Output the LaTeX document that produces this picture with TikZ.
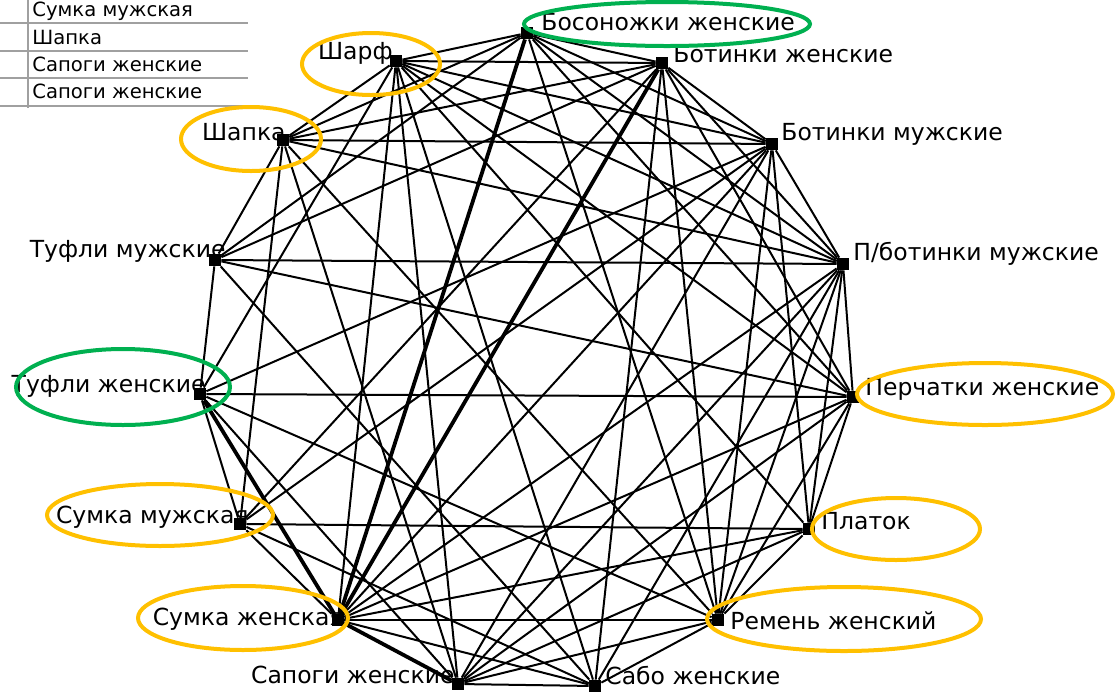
\documentclass[tikz,border=0pt]{standalone}
\usepackage{fontspec}
\setmainfont{DejaVu Sans}
\definecolor{ringorange}{HTML}{FFC000}
\definecolor{ringgreen}{HTML}{00B050}
\definecolor{gridgray}{HTML}{A0A0A0}

\begin{document}
\begin{tikzpicture}[x=0.5pt,y=-0.5pt]
\tikzset{vert/.style={fill=black,minimum size=6pt,inner sep=0pt}}
\tikzset{lbl/.style={font=\fontsize{11.75}{14}\selectfont,inner sep=0pt}}
\tikzset{tbl/.style={font=\fontsize{9.8}{11}\selectfont,anchor=west,inner sep=0pt}}
\tikzset{link/.style={line width=1pt}}
\tikzset{strong/.style={line width=1.9pt}}
\tikzset{ring/.style={draw=#1,line width=2pt}}
\useasboundingbox (0,0) rectangle (1115,692);

% table
\draw[gridgray,line width=1pt] (28,0) -- (28,108);
\foreach \y in {23,51,78,106} \draw[gridgray,line width=1pt] (0,\y) -- (248,\y);
\node[tbl] (row1) at (32,11) {Сумка мужская};
\node[tbl] (row2) at (32,37) {Шапка};
\node[tbl] (row3) at (32,64) {Сапоги женские};
\node[tbl] (row4) at (32,91) {Сапоги женские};

% vertices
\node[vert] (bos) at (527,33) {};
\node[vert] (botzh) at (662,63) {};
\node[vert] (botm) at (772,144) {};
\node[vert] (pbot) at (843,264) {};
\node[vert] (perch) at (853,397) {};
\node[vert] (platok) at (809,529) {};
\node[vert] (remen) at (718,620) {};
\node[vert] (sabo) at (595,686) {};
\node[vert] (sapogi) at (458,684) {};
\node[vert] (sumzh) at (338,620) {};
\node[vert] (summ) at (240,524) {};
\node[vert] (tufzh) at (200,394) {};
\node[vert] (tufm) at (215,260) {};
\node[vert] (shapka) at (283,140) {};
\node[vert] (sharf) at (396,61) {};

% links
\foreach \a/\b in {bos/sharf,bos/botzh,bos/botm,bos/pbot,bos/perch,bos/remen,bos/tufm,bos/shapka,
  sharf/botzh,sharf/botm,sharf/pbot,sharf/perch,sharf/platok,sharf/sabo,sharf/sapogi,sharf/sumzh,sharf/tufzh,sharf/shapka,
  botzh/botm,botzh/pbot,botzh/perch,botzh/remen,botzh/sabo,botzh/summ,botzh/shapka,botzh/tufm,
  botm/pbot,botm/platok,botm/remen,botm/sapogi,botm/summ,botm/tufzh,botm/shapka,botm/sumzh,
  pbot/perch,pbot/platok,pbot/remen,pbot/sabo,pbot/sapogi,pbot/tufm,pbot/shapka,pbot/sumzh,
  perch/platok,perch/remen,perch/sapogi,perch/sumzh,perch/tufm,perch/tufzh,
  platok/remen,platok/sapogi,platok/sumzh,platok/summ,
  remen/sabo,remen/sapogi,remen/sumzh,remen/tufzh,remen/shapka,
  sabo/sapogi,sabo/sumzh,sabo/tufm,sabo/summ,
  sapogi/tufzh,sapogi/shapka,sumzh/summ,summ/tufzh,summ/shapka,tufzh/tufm,tufm/shapka}
  \draw[link] (\a) -- (\b);
\foreach \a/\b in {bos/sumzh,botzh/sumzh,tufzh/sumzh,sumzh/sapogi}
  \draw[strong] (\a) -- (\b);

% labels
\node[lbl,anchor=west] (bos-l) at (541,22) {Босоножки женские};
\node[lbl,anchor=west] (botzh-l) at (673,54) {Ботинки женские};
\node[lbl,anchor=west] (botm-l) at (781,134) {Ботинки мужские};
\node[lbl,anchor=west] (pbot-l) at (853,254) {П/ботинки мужские};
\node[lbl,anchor=west] (perch-l) at (865,389) {Перчатки женские};
\node[lbl,anchor=west] (platok-l) at (821,521) {Платок};
\node[lbl,anchor=west] (remen-l) at (730,621) {Ремень женский};
\node[lbl,anchor=west] (sabo-l) at (605,676) {Сабо женские};
\node[lbl,anchor=east] (sapogi-l) at (455,675) {Сапоги женские};
\node[lbl,anchor=east] (sumzh-l) at (344,619) {Сумка женская};
\node[lbl,anchor=east] (summ-l) at (249,517) {Сумка мужская};
\node[lbl,anchor=east] (tufzh-l) at (206,386) {Туфли женские};
\node[lbl,anchor=east] (tufm-l) at (226,251) {Туфли мужские};
\node[lbl,anchor=east] (shapka-l) at (286,132) {Шапка};
\node[lbl,anchor=east] (sharf-l) at (393,53) {Шарф};

% marks
\draw[ring=ringgreen] (667,24) ellipse [x radius=143, y radius=22];
\draw[ring=ringgreen] (123,387) ellipse [x radius=107, y radius=38];
\draw[ring=ringorange] (371,64) ellipse [x radius=69, y radius=31];
\draw[ring=ringorange] (251,139) ellipse [x radius=70, y radius=32];
\draw[ring=ringorange] (160,515) ellipse [x radius=113, y radius=31];
\draw[ring=ringorange] (243,618) ellipse [x radius=105, y radius=32];
\draw[ring=ringorange] (985,394) ellipse [x radius=128, y radius=31];
\draw[ring=ringorange] (896,529) ellipse [x radius=84, y radius=31];
\draw[ring=ringorange] (844,619) ellipse [x radius=137, y radius=32];
\end{tikzpicture}
\end{document}
